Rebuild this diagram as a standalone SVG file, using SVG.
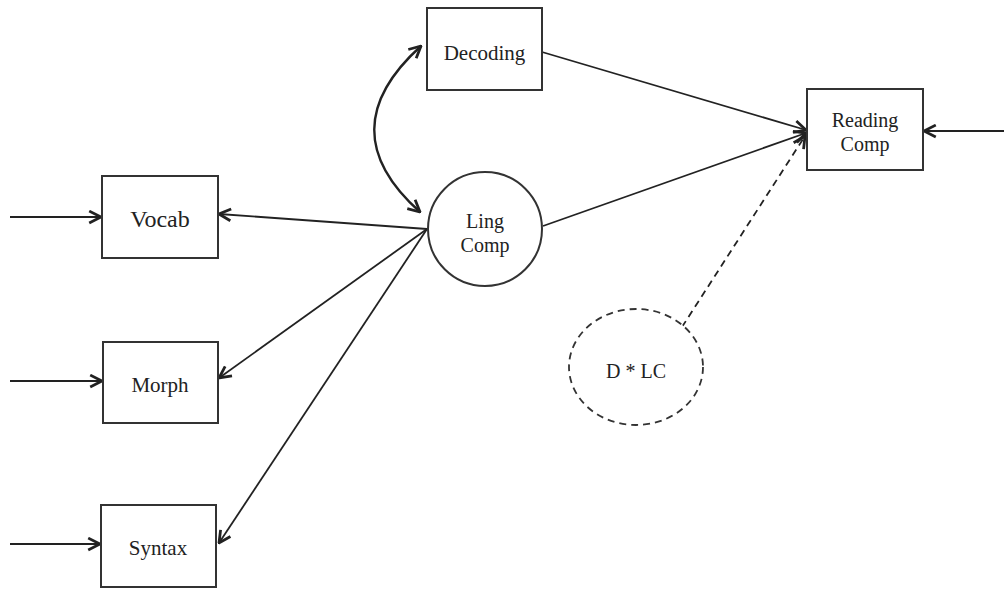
<svg xmlns="http://www.w3.org/2000/svg" width="1004" height="589" viewBox="0 0 1004 589">
<defs>
<style>
.box{fill:#fff;stroke:#333;stroke-width:2}
.lbl{font-family:"Liberation Serif","Times New Roman",serif;fill:#222;text-anchor:middle}
.edge{fill:none;stroke:#222;stroke-width:1.8}
.dash{stroke-dasharray:7,5}
.thick{stroke-width:2.4}
</style>
<marker id="arr" viewBox="0 0 14 14" refX="13" refY="7" markerWidth="15" markerHeight="15" markerUnits="userSpaceOnUse" orient="auto-start-reverse">
<path d="M2,1.5 L13,7 L2,12.5" fill="none" stroke="#222" stroke-width="2.6" stroke-linejoin="miter"/>
</marker>
</defs>
<rect width="1004" height="589" fill="#fff"/>
<g id="connectors">
<path class="edge" d="M542,52 L806,130" marker-end="url(#arr)"/>
<path class="edge" d="M543,226 L806,133" marker-end="url(#arr)"/>
<path class="edge dash" d="M682,327 L805,136" marker-end="url(#arr)"/>
<path class="edge" d="M427,229 L219,214" marker-end="url(#arr)"/>
<path class="edge" d="M427,229 L219,378" marker-end="url(#arr)"/>
<path class="edge" d="M427,229 L219,543" marker-end="url(#arr)"/>
<path class="edge" d="M10,217 L101,217" marker-end="url(#arr)"/>
<path class="edge" d="M10,381 L102,381" marker-end="url(#arr)"/>
<path class="edge" d="M10,544 L100,544" marker-end="url(#arr)"/>
<path class="edge" d="M1004,131 L924,131" marker-end="url(#arr)"/>
<path class="edge thick" d="M421,46 Q328,130 420,212" marker-start="url(#arr)" marker-end="url(#arr)"/>
</g>
<g id="decoding">
<rect class="box" x="427" y="8" width="115" height="82"/>
<text class="lbl" x="484.5" y="60" font-size="21">Decoding</text>
</g>
<g id="reading-comp">
<rect class="box" x="807" y="89" width="116" height="81"/>
<text class="lbl" x="865" y="127" font-size="20">Reading</text>
<text class="lbl" x="865" y="151" font-size="20">Comp</text>
</g>
<g id="ling-comp">
<circle class="box" cx="485" cy="229" r="57"/>
<text class="lbl" x="485" y="228" font-size="20">Ling</text>
<text class="lbl" x="485" y="252" font-size="20">Comp</text>
</g>
<g id="vocab">
<rect class="box" x="102" y="176" width="116" height="82"/>
<text class="lbl" x="160" y="227" font-size="24">Vocab</text>
</g>
<g id="morph">
<rect class="box" x="103" y="342" width="115" height="81"/>
<text class="lbl" x="160" y="392" font-size="21">Morph</text>
</g>
<g id="syntax">
<rect class="box" x="101" y="505" width="115" height="82"/>
<text class="lbl" x="158" y="555" font-size="21">Syntax</text>
</g>
<g id="d-lc">
<ellipse cx="636" cy="367" rx="67" ry="58" fill="#fff" stroke="#333" stroke-width="1.8" stroke-dasharray="7,5"/>
<text class="lbl" x="636" y="378" font-size="20">D * LC</text>
</g>
</svg>
